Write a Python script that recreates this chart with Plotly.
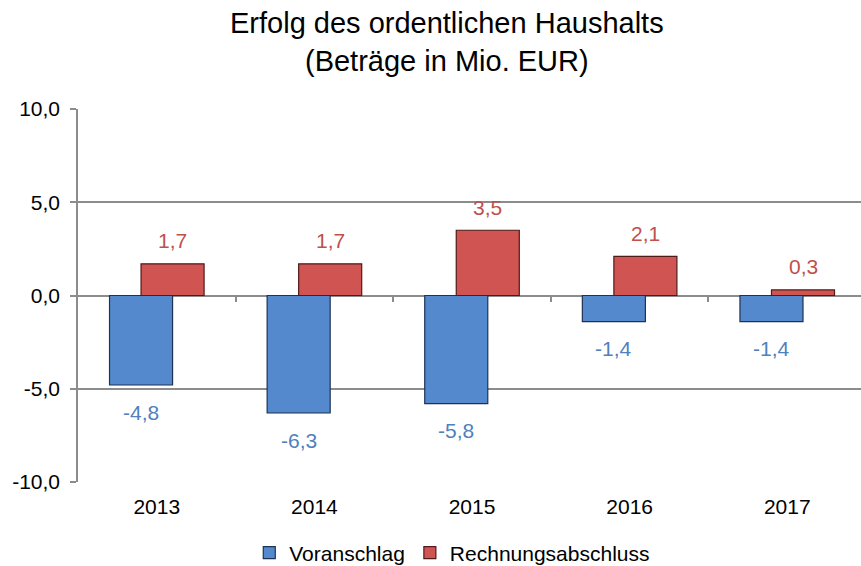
import plotly.graph_objects as go

years = ["2013", "2014", "2015", "2016", "2017"]
voranschlag = [-4.8, -6.3, -5.8, -1.4, -1.4]
rechnungsabschluss = [1.7, 1.7, 3.5, 2.1, 0.3]
y_ticks = [-10, -5, 0, 5, 10]
y_ticktext = [f"{v:.1f}".replace(".", ",") for v in y_ticks]

BLUE = "rgb(84,137,206)"
BLUE_LINE = "rgb(30,50,82)"
BLUE_TXT = "rgb(79,129,189)"
RED = "rgb(208,84,82)"
RED_LINE = "rgb(80,26,26)"
RED_TXT = "rgb(192,80,77)"
GRID = "rgb(140,140,140)"
FONT = "Liberation Sans, Arial, sans-serif"

x_idx = list(range(len(years)))

fig = go.Figure()
fig.add_trace(go.Bar(
    x=x_idx, y=voranschlag, name="Voranschlag",
    width=0.4, offset=-0.3,
    marker=dict(color=BLUE, line=dict(color=BLUE_LINE, width=1.2)),
    hoverinfo="y",
))
fig.add_trace(go.Bar(
    x=x_idx, y=rechnungsabschluss, name="Rechnungsabschluss",
    width=0.4, offset=-0.1,
    marker=dict(color=RED, line=dict(color=RED_LINE, width=1.2)),
    hoverinfo="y",
))
# invisible trace to host the tick-only axis at the zero line
fig.add_trace(go.Scatter(x=[-0.5, 4.5], y=[0, 0], xaxis="x2", mode="lines",
                         line=dict(color="rgba(0,0,0,0)"), showlegend=False,
                         hoverinfo="skip"))

annotations = []
for i, v in enumerate(voranschlag):
    annotations.append(dict(x=i - 0.1, y=v, xref="x", yref="y",
                            text=f"{v:.1f}".replace(".", ","), showarrow=False,
                            yshift=-27, font=dict(size=21, color=BLUE_TXT, family=FONT)))
for i, v in enumerate(rechnungsabschluss):
    annotations.append(dict(x=i + 0.1, y=v, xref="x", yref="y",
                            text=f"{v:.1f}".replace(".", ","), showarrow=False,
                            yshift=23, font=dict(size=21, color=RED_TXT, family=FONT)))
annotations.append(dict(
    text="Erfolg des ordentlichen Haushalts<br>(Beträge in Mio. EUR)",
    xref="paper", yref="paper", x=0.471, y=1.1796, xanchor="center", yanchor="middle",
    showarrow=False, font=dict(size=29, color="black", family=FONT),
))

fig.update_layout(
    width=861, height=566,
    margin=dict(l=78, r=0, t=109, b=84, autoexpand=False),
    paper_bgcolor="white", plot_bgcolor="white",
    separators=",.",
    barmode="overlay",
    font=dict(family=FONT, size=21, color="black"),
    xaxis=dict(
        range=[-0.5, 4.468], tickvals=x_idx, ticktext=years,
        showgrid=False, zeroline=False, showline=False, ticks="",
        ticklabelstandoff=10, tickfont=dict(size=21),
    ),
    xaxis2=dict(
        overlaying="x", anchor="free", position=0.5, range=[-0.5, 4.468],
        tickvals=[0.5, 1.5, 2.5, 3.5], ticks="outside", ticklen=5, tickwidth=1.5,
        tickcolor=GRID, showticklabels=False, showgrid=False,
        zeroline=False, showline=False,
    ),
    yaxis=dict(
        range=[-10, 10], tickvals=y_ticks, ticktext=y_ticktext,
        showgrid=True, gridcolor=GRID, gridwidth=1.5,
        zeroline=True, zerolinecolor=GRID, zerolinewidth=1.5,
        showline=True, linecolor=GRID, linewidth=1.5,
        ticks="outside", ticklen=6, tickcolor=GRID, tickwidth=1.5,
        ticklabelstandoff=6, tickfont=dict(size=21),
    ),
    legend=dict(orientation="h", x=0.478, xanchor="center",
                yref="container", y=0.023, yanchor="middle",
                font=dict(size=21), itemwidth=30, traceorder="normal"),
    annotations=annotations,
    showlegend=True,
)

fig.write_html("out.html", config={"displayModeBar": False},
               post_script="document.body.style.margin='0';")
